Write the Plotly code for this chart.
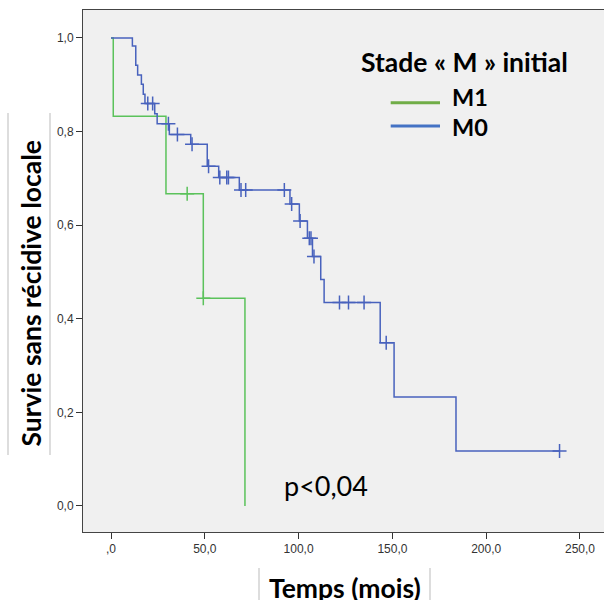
import plotly.graph_objects as go

# ---- Data ----
# M0 (blue) Kaplan-Meier step: event times and survival after each event
m0_times = [0, 11.4, 13.2, 14.2, 16.2, 17.2, 18.1, 23.3, 24.6, 31.1, 42.5, 51.3, 57.4, 68.4,
            95.4, 100.4, 104.7, 107.4, 111.8, 113.6, 143.5, 150.9, 183.9, 239.1]
m0_surv = [1.0, 0.983, 0.942, 0.921, 0.901, 0.880, 0.860, 0.838, 0.817, 0.794, 0.773, 0.726, 0.702, 0.675,
           0.645, 0.609, 0.572, 0.533, 0.484, 0.435, 0.349, 0.233, 0.1175, 0.1175]
# M0 censored observations
m0_cens_t = [19.6, 22.2, 30.6, 35.4, 43.2, 52.0, 58.0, 61.7, 62.6, 69.3, 71.8, 92.4, 96.3, 100.8,
             105.7, 106.6, 108.2, 121.8, 126.6, 134.9, 146.7, 239.1]
m0_cens_s = [0.860, 0.860, 0.817, 0.794, 0.773, 0.726, 0.702, 0.702, 0.702, 0.675, 0.675, 0.675, 0.645, 0.609,
             0.572, 0.572, 0.533, 0.435, 0.435, 0.435, 0.349, 0.1175]

# M1 (green)
m1_times = [0, 1.2, 29.3, 49.2, 71.4]
m1_surv = [1.0, 0.833, 0.667, 0.444, 0.0]
m1_cens_t = [40.6, 49.2]
m1_cens_s = [0.667, 0.444]

x_tickvals = [0, 50, 100, 150, 200, 250]
x_ticktext = [",0", "50,0", "100,0", "150,0", "200,0", "250,0"]
y_tickvals = [0, 0.2, 0.4, 0.6, 0.8, 1.0]
y_ticktext = ["0,0", "0,2", "0,4", "0,6", "0,8", "1,0"]

GREEN = "#5BC25B"
BLUE = "#4862BD"

fig = go.Figure()
fig.add_trace(go.Scatter(x=m1_times, y=m1_surv, mode="lines", line=dict(color=GREEN, width=1.5, shape="hv"),
                         showlegend=False, hoverinfo="skip"))
fig.add_trace(go.Scatter(x=m0_times, y=m0_surv, mode="lines", line=dict(color=BLUE, width=1.5, shape="hv"),
                         showlegend=False, hoverinfo="skip"))
fig.add_trace(go.Scatter(x=m1_cens_t, y=m1_cens_s, mode="markers",
                         marker=dict(symbol="cross-thin", size=10, line=dict(color=GREEN, width=1.5)),
                         showlegend=False, hoverinfo="skip"))
fig.add_trace(go.Scatter(x=m0_cens_t, y=m0_cens_s, mode="markers",
                         marker=dict(symbol="cross-thin", size=10, line=dict(color=BLUE, width=1.5)),
                         showlegend=False, hoverinfo="skip"))

L, R, T, B = 83, 0, 10, 68
W, H = 604, 600
PW, PH = W - L - R, H - T - B


def px(xp):
    return (xp - L) / PW


def py(yp):
    return (H - B - yp) / PH


fig.update_layout(
    width=W, height=H,
    margin=dict(l=L, r=R, t=T, b=B),
    paper_bgcolor="white",
    plot_bgcolor="#F0F0F0",
    showlegend=False,
    xaxis=dict(range=[-14.93, 262.8], tickvals=x_tickvals, ticktext=x_ticktext,
               showgrid=False, zeroline=False, showline=True, linecolor="#444444", linewidth=1,
               mirror=True, ticks="outside", ticklen=6, tickcolor="#333333",
               tickfont=dict(family="Liberation Sans", size=12, color="#333333")),
    yaxis=dict(range=[-0.0556, 1.0598], tickvals=y_tickvals, ticktext=y_ticktext,
               showgrid=False, zeroline=False, showline=True, linecolor="#444444", linewidth=1,
               ticks="outside", ticklen=6, tickcolor="#333333",
               tickfont=dict(family="Liberation Sans", size=12, color="#333333")),
)

annotations = [
    dict(text="<b>Survie sans récidive locale</b>", x=px(30), y=py(293.5), textangle=-90,
         font=dict(family="Lato", size=26.5, color="black")),
    dict(text="<b>Temps (mois)</b>", x=px(345), y=py(588),
         font=dict(family="Lato", size=26.5, color="black")),
    dict(text="p<0,04", x=px(325.5), y=py(485),
         font=dict(family="Lato", size=27, color="black")),
    dict(text="<b>Stade « M » initial</b>", x=px(359), y=py(61.7), xanchor="left",
         font=dict(family="Lato", size=26.5, color="black")),
    dict(text="<b>M1</b>", x=px(450), y=py(96.7), xanchor="left",
         font=dict(family="Lato", size=23.5, color="black")),
    dict(text="<b>M0</b>", x=px(450), y=py(126.7), xanchor="left",
         font=dict(family="Lato", size=23.5, color="black")),
]
for a in annotations:
    a.update(xref="paper", yref="paper", showarrow=False, yanchor="middle")
    a.setdefault("xanchor", "center")
    fig.add_annotation(**a)

shapes = [
    # legend swatches
    dict(x0=px(390.7), x1=px(440), y0=py(102.7), y1=py(102.7), line=dict(color="#70AD47", width=3)),
    dict(x0=px(390.7), x1=px(440), y0=py(126), y1=py(126), line=dict(color="#4472C4", width=3)),
    # decorative frame lines around axis titles
    dict(x0=px(8), x1=px(8), y0=py(113), y1=py(455), line=dict(color="#BBBBBB", width=1)),
    dict(x0=px(50), x1=px(50), y0=py(113), y1=py(455), line=dict(color="#BBBBBB", width=1)),
    dict(x0=px(259), x1=px(259), y0=py(568), y1=py(600), line=dict(color="#BBBBBB", width=1)),
    dict(x0=px(430), x1=px(430), y0=py(568), y1=py(600), line=dict(color="#BBBBBB", width=1)),
]
for s in shapes:
    s.update(type="line", xref="paper", yref="paper")
    fig.add_shape(**s)

fig.write_html(
    "out.html",
    config={"displayModeBar": False},
    post_script="document.body.style.margin='0';document.body.style.padding='0';"
                "document.body.style.overflow='hidden';",
)
